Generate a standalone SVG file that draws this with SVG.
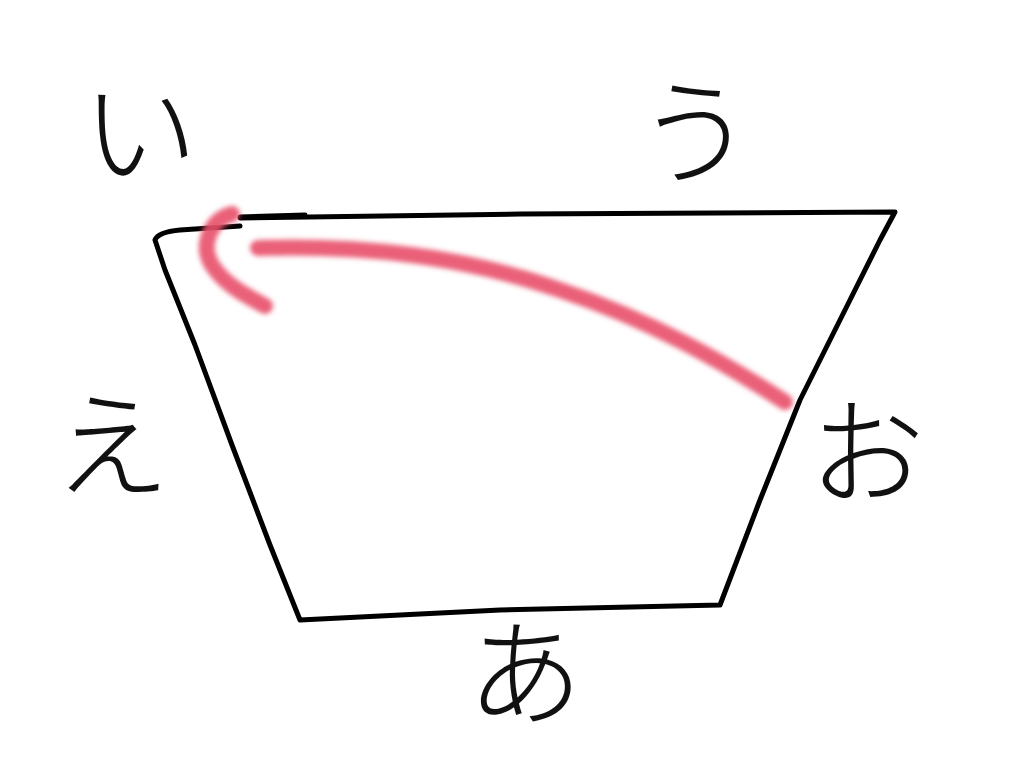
<svg xmlns="http://www.w3.org/2000/svg" width="1024" height="768" viewBox="0 0 1024 768">
<defs>
<style>
.lbl{font-family:"Noto Sans CJK JP","Noto Sans",sans-serif;font-size:116px;font-weight:300;fill:#111;text-anchor:middle}
.edge{fill:none;stroke:#000;stroke-width:5;stroke-linecap:round;stroke-linejoin:round}
.red{fill:none;stroke:#e8506a;stroke-width:16;stroke-linecap:round;stroke-linejoin:round;opacity:0.9}
</style>
<filter id="soft" x="-10%" y="-10%" width="120%" height="120%"><feGaussianBlur stdDeviation="2.5"/></filter>
</defs>
<rect width="1024" height="768" fill="#fff"/>
<g id="shape">
<path class="edge" d="M240,218 L520,214 L895,212 L880,240 L850,300 L800,400 L760,500 L720,605 L500,610 L300,620 L270,545 L232,445 L195,345 L165,270 L155,240 Q158,232 180,230 L240,226"/>
<path class="edge" d="M240,217 L305,215" stroke-width="6"/>
</g>
<g id="arrow" filter="url(#soft)">
<path class="red" d="M785,402 C720,360 650,320 560,290 C460,255 360,245 258,248"/>
<path class="red" d="M232,214 C210,220 200,245 212,265 C225,285 245,295 265,306"/>
</g>
<g id="labels">
<text class="lbl" x="140" y="175">い</text>
<text class="lbl" x="695" y="175">う</text>
<text class="lbl" x="112" y="488">え</text>
<text class="lbl" x="867" y="495">お</text>
<text class="lbl" x="525" y="716">あ</text>
</g>
</svg>
